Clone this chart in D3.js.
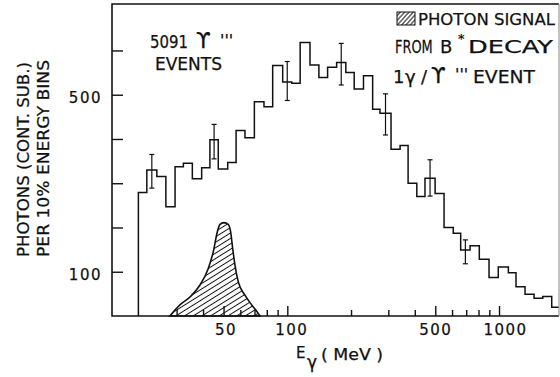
<!DOCTYPE html>
<html>
<head>
<meta charset="utf-8">
<script src="https://cdn.jsdelivr.net/npm/d3@7"></script>
<style>
  body { margin: 0; background: #fff; }
  text { font-family: "DejaVu Sans", sans-serif; fill: #111; stroke: #111; stroke-width: 0.25; }
</style>
</head>
<body>
<svg id="chart" width="560" height="377"></svg>
<script>
// bin edges (MeV), ~10% energy bins
const binEdges = [19.8, 21.7, 24.2, 26.7, 29.5, 32.3, 35.6, 39.4, 43.1, 47.2, 52.3, 57.3,
  63.1, 69.9, 77.6, 85.3, 95.1, 105, 115, 128, 141, 155, 171, 189, 207, 229, 253, 274,
  309, 341, 372, 409, 447, 499, 550, 608, 659, 730, 807, 897, 992, 1107, 1203, 1327,
  1464, 1609, 1774, 1920];
// photons per bin (continuum subtracted)
const counts = [279, 330, 315, 247, 337, 345, 310, 335, 398, 332, 347, 419, 403, 484,
  473, 566, 529, 526, 618, 567, 539, 562, 573, 550, 513, 543, 467, 458, 377, 385, 300,
  270, 311, 277, 200, 187, 149, 159, 128, 87, 111, 98, 66, 49, 40, 44, 20];
// error bars: bin index, low, high
const errBin = [1, 8, 16, 22, 27, 32, 36];
const errLo = [289, 355, 487, 522, 409, 271, 118];
const errHi = [365, 433, 575, 616, 502, 353, 172];
// expected photon signal from B* decay
const signalE = [27.9, 31.1, 34.7, 38.7, 42.3, 44.7, 46.7, 48.1, 50.2, 52.6, 54.0, 55.2,
  56.6, 58.7, 63.1, 67.9, 72.9, 74.3];
const signalN = [0, 25, 43, 70, 107, 145, 190, 207, 211, 207, 190, 153, 115, 77, 47, 25, 6, 0];

const xTicks = [30, 40, 50, 60, 70, 80, 90, 100, 200, 300, 400, 500, 600, 700, 800, 900, 1000];
const xLabels = [50, 100, 500, 1000];
const xMajor = [50, 100, 500, 1000];
const yTicks = [100, 200, 300, 400, 500, 600];
const yLabels = [100, 500];

const svg = d3.select('#chart');
const x = d3.scaleLog().domain([14.86, 1920]).range([112, 559]);
const y = d3.scaleLinear().domain([0, 705]).range([316, 4]);

const defs = svg.append('defs');
defs.append('pattern')
  .attr('id', 'hatch').attr('patternUnits', 'userSpaceOnUse')
  .attr('width', 10).attr('height', 4.6)
  .attr('patternTransform', 'rotate(-32)')
  .append('line')
  .attr('x1', 0).attr('x2', 10).attr('y1', 2.3).attr('y2', 2.3)
  .attr('stroke', '#111').attr('stroke-width', 1);
defs.append('pattern')
  .attr('id', 'hatchKey').attr('patternUnits', 'userSpaceOnUse')
  .attr('width', 10).attr('height', 3.2)
  .attr('patternTransform', 'rotate(-48)')
  .append('line')
  .attr('x1', 0).attr('x2', 10).attr('y1', 1.6).attr('y2', 1.6)
  .attr('stroke', '#111').attr('stroke-width', 1);

// signal peak
const sig = signalE.map((e, i) => ({ e: e, n: signalN[i] }));
const area = d3.area()
  .x(d => x(d.e)).y0(y(0)).y1(d => y(d.n))
  .curve(d3.curveMonotoneX);
svg.append('path')
  .datum(sig)
  .attr('d', area)
  .attr('fill', 'url(#hatch)')
  .attr('stroke', '#111').attr('stroke-width', 1.6);

// histogram
const steps = [{ e: binEdges[0], n: 0 }];
counts.forEach((c, i) => steps.push({ e: binEdges[i], n: c }));
steps.push({ e: binEdges[binEdges.length - 1], n: counts[counts.length - 1] });
const stepLine = d3.line().x(d => x(d.e)).y(d => y(d.n)).curve(d3.curveStepAfter);
svg.append('path')
  .datum(steps)
  .attr('d', stepLine)
  .attr('fill', 'none')
  .attr('stroke', '#111').attr('stroke-width', 1.5);

// error bars
const errs = errBin.map((b, i) => ({
  e: Math.sqrt(binEdges[b] * binEdges[b + 1]), lo: errLo[i], hi: errHi[i]
}));
const eg = svg.append('g').attr('stroke', '#111').attr('stroke-width', 1.2);
eg.selectAll('line.bar').data(errs).join('line').attr('class', 'bar')
  .attr('x1', d => x(d.e)).attr('x2', d => x(d.e))
  .attr('y1', d => y(d.lo)).attr('y2', d => y(d.hi));
eg.selectAll('line.cap-lo').data(errs).join('line').attr('class', 'cap-lo')
  .attr('x1', d => x(d.e) - 2.5).attr('x2', d => x(d.e) + 2.5)
  .attr('y1', d => y(d.lo)).attr('y2', d => y(d.lo));
eg.selectAll('line.cap-hi').data(errs).join('line').attr('class', 'cap-hi')
  .attr('x1', d => x(d.e) - 2.5).attr('x2', d => x(d.e) + 2.5)
  .attr('y1', d => y(d.hi)).attr('y2', d => y(d.hi));

// frame
svg.append('path')
  .attr('d', `M559,4H112V316H559`)
  .attr('fill', 'none').attr('stroke', '#111').attr('stroke-width', 1.6);
svg.append('line')
  .attr('x1', 559).attr('x2', 559).attr('y1', 4).attr('y2', 316)
  .attr('stroke', '#999').attr('stroke-width', 1.2);

// axes
const labelShift = { 50: 2, 100: 4, 500: 0, 1000: 6 };
const xAxis = svg.append('g')
  .attr('transform', `translate(0,${y(0)})`)
  .call(d3.axisBottom(x).tickValues(xTicks).tickSizeInner(-6).tickSizeOuter(0)
    .tickPadding(8).tickFormat(d => xLabels.includes(d) ? d : ''));
xAxis.select('.domain').remove();
xAxis.attr('font-family', null).attr('font-size', 15);
xAxis.selectAll('.tick line').attr('stroke', '#111').attr('stroke-width', 1.4)
  .attr('y2', d => xMajor.includes(d) ? -10 : -6);
xAxis.selectAll('.tick text').attr('letter-spacing', 1.5)
  .attr('dx', d => labelShift[d] || 0);

const yAxis = svg.append('g')
  .attr('transform', 'translate(112,0)')
  .call(d3.axisLeft(y).tickValues(yTicks).tickSizeInner(-11).tickSizeOuter(0)
    .tickPadding(10).tickFormat(d => yLabels.includes(d) ? d : ''));
yAxis.select('.domain').remove();
yAxis.attr('font-family', null).attr('font-size', 15);
yAxis.selectAll('.tick line').attr('stroke', '#111').attr('stroke-width', 1.4);
yAxis.selectAll('.tick text').attr('letter-spacing', 1.5).attr('dy', '0.55em');

// axis titles
svg.append('text').attr('transform', 'translate(29,159.5) rotate(-90)')
  .attr('text-anchor', 'middle').attr('font-size', 16)
  .attr('textLength', 195).attr('lengthAdjust', 'spacingAndGlyphs')
  .text('PHOTONS (CONT. SUB.)');
svg.append('text').attr('transform', 'translate(49,158.5) rotate(-90)')
  .attr('text-anchor', 'middle').attr('font-size', 16)
  .attr('textLength', 197).attr('lengthAdjust', 'spacingAndGlyphs')
  .text('PER 10% ENERGY BINS');

svg.append('text').attr('x', 296).attr('y', 358).attr('font-size', 15).text('E');
svg.append('text').attr('x', 307).attr('y', 368).attr('font-size', 17).text('γ');
svg.append('text').attr('x', 321).attr('y', 360).attr('font-size', 16)
  .attr('textLength', 62).attr('lengthAdjust', 'spacingAndGlyphs').text('( MeV )');

// annotations
svg.append('text').attr('x', 150).attr('y', 48).attr('font-size', 18)
  .attr('textLength', 38).attr('lengthAdjust', 'spacingAndGlyphs').text('5091');
svg.append('text').attr('x', 196).attr('y', 48).attr('font-size', 21).text('ϒ');
svg.append('text').attr('x', 220).attr('y', 46).attr('font-size', 16).text("'''");
svg.append('text').attr('x', 155).attr('y', 70).attr('font-size', 17)
  .attr('textLength', 67).attr('lengthAdjust', 'spacingAndGlyphs').text('EVENTS');

svg.append('rect').attr('x', 397).attr('y', 12).attr('width', 18).attr('height', 13)
  .attr('fill', 'url(#hatchKey)').attr('stroke', '#111').attr('stroke-width', 1);
svg.append('text').attr('x', 418).attr('y', 25).attr('font-size', 16.5).text('PHOTON SIGNAL');
svg.append('text').attr('transform', 'translate(395,53) scale(0.76,1)')
  .attr('font-size', 17).text('FROM');
svg.append('text').attr('x', 440).attr('y', 53).attr('font-size', 18).text('B');
svg.append('text').attr('x', 458).attr('y', 43).attr('font-size', 13).text('*');
svg.append('text').attr('x', 468).attr('y', 53).attr('font-size', 18)
  .attr('textLength', 85).attr('lengthAdjust', 'spacingAndGlyphs').text('DECAY');
svg.append('text').attr('x', 393).attr('y', 83).attr('font-size', 18).text('1');
svg.append('text').attr('x', 405).attr('y', 83).attr('font-size', 18).text('γ');
svg.append('text').attr('x', 421).attr('y', 83).attr('font-size', 18).text('/');
svg.append('text').attr('x', 431).attr('y', 83).attr('font-size', 21).text('ϒ');
svg.append('text').attr('x', 455).attr('y', 80).attr('font-size', 16).text("'''");
svg.append('text').attr('x', 473).attr('y', 83).attr('font-size', 18)
  .attr('textLength', 62).attr('lengthAdjust', 'spacingAndGlyphs').text('EVENT');
</script>
</body>
</html>
